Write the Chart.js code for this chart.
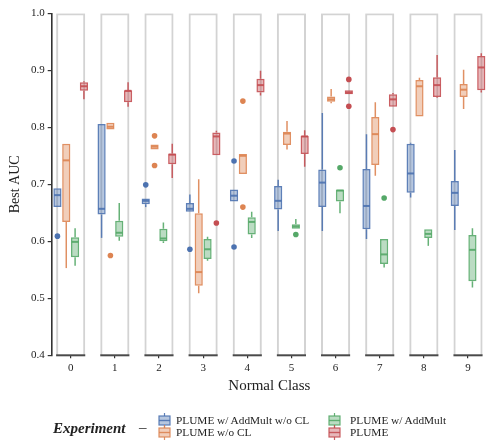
<!DOCTYPE html>
<html>
<head>
<meta charset="utf-8">
<script src="https://cdn.jsdelivr.net/npm/chart.js@4"></script>
<style>
  html, body { margin: 0; padding: 0; background: #fff; }
  #wrap { position: relative; width: 491px; height: 442px; overflow: hidden; }
  #chart { position: absolute; left: 0; top: 0; }
  .lg { position: absolute; font-family: 'Liberation Serif', 'DejaVu Serif', serif; color: #222; white-space: nowrap; line-height: 1; }
  .lg-title { font-weight: bold; font-style: italic; font-size: 15px; }
  .lg-text { font-size: 11.3px; }
</style>
</head>
<body>
<div id="wrap">
  <canvas id="chart" width="491" height="442"></canvas>
  <div id="legend"></div>
</div>
<script>
// ---------------- data ----------------
const classes = [0, 1, 2, 3, 4, 5, 6, 7, 8, 9];
const seriesNames = ['PLUME w/ AddMult w/o CL', 'PLUME w/o CL', 'PLUME w/ AddMult', 'PLUME'];
const seriesColors = ['#4c72b0', '#dd8452', '#55a868', '#c44e52'];
const yTicks = [0.4, 0.5, 0.6, 0.7, 0.8, 0.9, 1.0];

// per class: [lower whisker, Q1, median, Q3, upper whisker]
const addMultNoCL = [
  [0.660, 0.660, 0.681, 0.693, 0.693],
  [0.606, 0.647, 0.657, 0.806, 0.806],
  [0.660, 0.665, 0.671, 0.675, 0.675],
  [0.652, 0.652, 0.657, 0.667, 0.682],
  [0.670, 0.670, 0.680, 0.691, 0.691],
  [0.618, 0.656, 0.671, 0.697, 0.708],
  [0.618, 0.660, 0.703, 0.726, 0.825],
  [0.604, 0.621, 0.662, 0.727, 0.788],
  [0.677, 0.685, 0.719, 0.771, 0.773],
  [0.620, 0.662, 0.685, 0.706, 0.760]
];
const noCL = [
  [0.553, 0.634, 0.742, 0.771, 0.771],
  [0.796, 0.796, 0.801, 0.808, 0.808],
  [0.761, 0.761, 0.766, 0.770, 0.770],
  [0.509, 0.522, 0.546, 0.649, 0.709],
  [0.718, 0.718, 0.750, 0.753, 0.753],
  [0.761, 0.769, 0.789, 0.792, 0.811],
  [0.842, 0.845, 0.849, 0.854, 0.867],
  [0.715, 0.734, 0.788, 0.818, 0.844],
  [0.819, 0.819, 0.872, 0.883, 0.887],
  [0.832, 0.853, 0.866, 0.876, 0.901]
];
const addMult = [
  [0.557, 0.572, 0.599, 0.607, 0.623],
  [0.601, 0.608, 0.615, 0.636, 0.667],
  [0.597, 0.600, 0.605, 0.622, 0.633],
  [0.566, 0.569, 0.586, 0.604, 0.608],
  [0.606, 0.612, 0.634, 0.642, 0.652],
  [0.622, 0.622, 0.626, 0.630, 0.639],
  [0.649, 0.670, 0.689, 0.691, 0.691],
  [0.554, 0.560, 0.577, 0.604, 0.604],
  [0.592, 0.606, 0.613, 0.621, 0.621],
  [0.519, 0.530, 0.585, 0.611, 0.623]
];
const plume = [
  [0.849, 0.864, 0.872, 0.879, 0.881],
  [0.836, 0.844, 0.864, 0.865, 0.879],
  [0.711, 0.735, 0.752, 0.754, 0.771],
  [0.751, 0.751, 0.784, 0.791, 0.794],
  [0.856, 0.861, 0.874, 0.885, 0.899],
  [0.731, 0.753, 0.784, 0.785, 0.795],
  [0.858, 0.858, 0.861, 0.865, 0.865],
  [0.836, 0.836, 0.849, 0.858, 0.860],
  [0.852, 0.853, 0.874, 0.888, 0.927],
  [0.861, 0.865, 0.905, 0.925, 0.930]
];
// outliers: [class, value]
const addMultNoCLOut = [[0, 0.609], [2, 0.699], [3, 0.586], [4, 0.741], [4, 0.590]];
const noCLOut = [[1, 0.575], [2, 0.785], [2, 0.733], [4, 0.846], [4, 0.660]];
const addMultOut = [[5, 0.612], [6, 0.729], [7, 0.676]];
const plumeOut = [[3, 0.632], [6, 0.884], [6, 0.837], [7, 0.796]];

// ---------------- build ----------------
const allStats = [addMultNoCL, noCL, addMult, plume];
const allOut = [addMultNoCLOut, noCLOut, addMultOut, plumeOut];
const CAT_PCT = 0.8;
const FONT = "'Liberation Serif', 'DejaVu Serif', serif";

function rgba(hex, a) {
  const n = parseInt(hex.slice(1), 16);
  return `rgba(${(n >> 16) & 255},${(n >> 8) & 255},${n & 255},${a})`;
}

const datasets = [];
// grey panels behind each class
datasets.push({
  type: 'bar',
  label: 'panel',
  isPanel: true,
  data: classes.map(c => ({ x: c, y: [yTicks[0], yTicks[yTicks.length - 1]] })),
  grouped: false,
  barPercentage: 0.825,
  backgroundColor: 'rgba(255,255,255,0)',
  borderColor: '#d3d3d3',
  borderWidth: { top: 2, left: 2, right: 2, bottom: 0 },
  borderSkipped: false,
  order: 10
});
allStats.forEach((stats, k) => {
  datasets.push({
    type: 'bar',
    label: seriesNames[k],
    stats: stats,
    data: stats.map((s, i) => ({ x: classes[i], y: [s[1], s[3]] })),
    backgroundColor: rgba(seriesColors[k], 0.4),
    borderColor: rgba(seriesColors[k], 0.9),
    borderWidth: 1.5,
    borderSkipped: false,
    categoryPercentage: CAT_PCT,
    barPercentage: 0.93,
    order: 5
  });
});
allOut.forEach((outs, k) => {
  const off = (k - (seriesNames.length - 1) / 2) * CAT_PCT / seriesNames.length;
  datasets.push({
    type: 'scatter',
    label: seriesNames[k] + ' outliers',
    data: outs.map(([c, v]) => ({ x: c + off, y: v })),
    backgroundColor: seriesColors[k],
    borderWidth: 0,
    pointRadius: 2.8,
    order: 0
  });
});

const boxExtras = {
  id: 'boxExtras',
  afterDatasetsDraw(chart) {
    const ctx = chart.ctx;
    const ys = chart.scales.y;
    chart.data.datasets.forEach((ds, di) => {
      const meta = chart.getDatasetMeta(di);
      if (ds.isPanel) {
        ctx.save();
        ctx.strokeStyle = '#4a4a4a';
        ctx.lineWidth = 2;
        meta.data.forEach(el => {
          const p = el.getProps(['x', 'width', 'base'], true);
          ctx.beginPath();
          ctx.moveTo(p.x - p.width / 2, p.base);
          ctx.lineTo(p.x + p.width / 2, p.base);
          ctx.stroke();
        });
        ctx.restore();
      }
      if (ds.stats) {
        ctx.save();
        ctx.strokeStyle = ds.borderColor;
        meta.data.forEach((el, i) => {
          const s = ds.stats[i];
          const p = el.getProps(['x', 'width'], true);
          const yLo = ys.getPixelForValue(s[0]);
          const yQ1 = ys.getPixelForValue(s[1]);
          const yMed = ys.getPixelForValue(s[2]);
          const yQ3 = ys.getPixelForValue(s[3]);
          const yHi = ys.getPixelForValue(s[4]);
          ctx.lineWidth = 1.5;
          ctx.beginPath();
          ctx.moveTo(p.x, yQ1); ctx.lineTo(p.x, yLo);
          ctx.moveTo(p.x, yQ3); ctx.lineTo(p.x, yHi);
          ctx.stroke();
          ctx.lineWidth = 2;
          ctx.beginPath();
          ctx.moveTo(p.x - p.width / 2 + 0.75, yMed);
          ctx.lineTo(p.x + p.width / 2 - 0.75, yMed);
          ctx.stroke();
        });
        ctx.restore();
      }
    });
  }
};

new Chart(document.getElementById('chart'), {
  type: 'bar',
  data: { datasets },
  options: {
    responsive: false,
    animation: false,
    events: [],
    layout: { padding: { left: 0, right: 1.3, top: 13.3, bottom: 46.7 } },
    plugins: { legend: { display: false }, tooltip: { enabled: false } },
    scales: {
      x: {
        type: 'linear',
        min: -0.43,
        max: 9.43,
        offset: false,
        afterBuildTicks(scale) { scale.ticks = classes.map(v => ({ value: v })); },
        afterFit(scale) { scale.height = 40; },
        grid: { display: true, offset: false, drawOnChartArea: false, drawTicks: true, tickLength: 3, color: '#333', lineWidth: 1.2 },
        border: { display: false },
        ticks: { font: { family: FONT, size: 11 }, color: '#222', padding: 3, maxRotation: 0, callback: v => String(v) },
        title: { display: true, text: 'Normal Class', font: { family: FONT, size: 15 }, color: '#222', padding: { top: 0, bottom: 0 } }
      },
      y: {
        type: 'linear',
        min: 0.4,
        max: 1.0,
        beginAtZero: false,
        afterBuildTicks(scale) { scale.ticks = yTicks.map(v => ({ value: v })); },
        afterFit(scale) { scale.width = 51.7; },
        grid: { display: true, drawOnChartArea: false, drawTicks: true, tickLength: 4, color: '#333', lineWidth: 1.2 },
        border: { display: true, color: '#333', width: 1.6 },
        ticks: { font: { family: FONT, size: 11 }, color: '#222', padding: 3, callback: v => Number(v).toFixed(1) },
        title: { display: true, text: 'Best AUC', font: { family: FONT, size: 14 }, color: '#222', padding: { top: 7, bottom: 0 } }
      }
    }
  },
  plugins: [boxExtras]
});

// ---------------- HTML legend ----------------
function glyph(color) {
  return `<svg width="13" height="15" viewBox="0 0 13 15" style="position:absolute;left:0;top:0">
    <line x1="6.5" y1="0" x2="6.5" y2="3" stroke="${rgba(color, 0.9)}" stroke-width="1.2"/>
    <line x1="6.5" y1="12" x2="6.5" y2="15" stroke="${rgba(color, 0.9)}" stroke-width="1.2"/>
    <rect x="1" y="3" width="11" height="9" fill="${rgba(color, 0.4)}" stroke="${rgba(color, 0.9)}" stroke-width="1.2"/>
    <line x1="1" y1="7.5" x2="12" y2="7.5" stroke="${rgba(color, 0.9)}" stroke-width="1.4"/>
  </svg>`;
}
const lg = document.getElementById('legend');
let html = `<div class="lg lg-title" style="left:53px;top:421px">Experiment</div>`;
html += `<div class="lg lg-title" style="left:139px;top:420px;font-style:normal;font-weight:normal">\u2013</div>`;
const cols = [[0, 1], [2, 3]];
const colIcon = [158, 328];
const colText = [176, 350];
const rowTop = [413, 425];
cols.forEach((col, ci) => {
  col.forEach((k, ri) => {
    html += `<div class="lg" style="left:${colIcon[ci]}px;top:${rowTop[ri]}px;width:13px;height:15px">${glyph(seriesColors[k])}</div>`;
    html += `<div class="lg lg-text" style="left:${colText[ci]}px;top:${rowTop[ri] + 2}px">${seriesNames[k]}</div>`;
  });
});
lg.innerHTML = html;
</script>
</body>
</html>
